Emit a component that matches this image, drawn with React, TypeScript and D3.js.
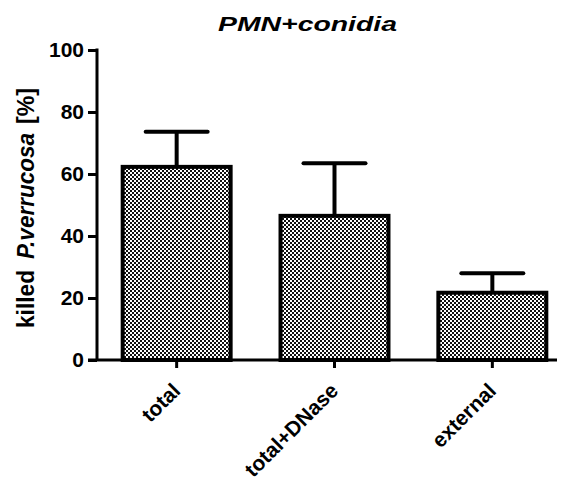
import * as d3 from "d3";
import React from "react";

const categories = ["total", "total+DNase", "external"];
const means = [62.3, 46.5, 21.7];
const errors = [11.3, 17, 6.3];
const yTicks = [0, 20, 40, 60, 80, 100];

export default function App() {
  const ref = React.useRef<SVGSVGElement>(null);

  React.useEffect(() => {
    const svg = d3.select(ref.current);
    svg.selectAll("*").remove();

    const x0 = 97;
    const x1 = 557;
    const yTop = 50;
    const yBottom = 360;

    const x = d3.scaleBand().domain(categories).range([x0 + 2, 570]).paddingInner(0.316).paddingOuter(0.15);
    const y = d3.scaleLinear().domain([0, 100]).range([yBottom, yTop]);

    // checker pattern
    const pat = svg
      .append("defs")
      .append("pattern")
      .attr("id", "checker")
      .attr("width", 4)
      .attr("height", 4)
      .attr("patternUnits", "userSpaceOnUse");
    pat.append("rect").attr("width", 4).attr("height", 4).attr("fill", "#fff");
    pat.append("rect").attr("width", 2).attr("height", 2).attr("fill", "#111");
    pat.append("rect").attr("x", 2).attr("y", 2).attr("width", 2).attr("height", 2).attr("fill", "#111");

    const font = "Arial, 'Liberation Sans', sans-serif";

    // bars
    svg
      .append("g")
      .selectAll("rect")
      .data(categories)
      .join("rect")
      .attr("x", (d) => x(d)!)
      .attr("y", (d, i) => y(means[i]))
      .attr("width", x.bandwidth())
      .attr("height", (d, i) => yBottom - y(means[i]))
      .attr("fill", "url(#checker)")
      .attr("stroke", "#000")
      .attr("stroke-width", 4);

    // error bars
    const eb = svg.append("g").attr("stroke", "#000").attr("stroke-width", 4);
    categories.forEach((c, i) => {
      const cx = x(c)! + x.bandwidth() / 2;
      eb.append("line")
        .attr("x1", cx)
        .attr("x2", cx)
        .attr("y1", y(means[i]))
        .attr("y2", y(means[i] + errors[i]));
      eb.append("line")
        .attr("x1", cx - 31)
        .attr("x2", cx + 31)
        .attr("y1", y(means[i] + errors[i]))
        .attr("y2", y(means[i] + errors[i]))
        .attr("stroke-linecap", "round");
    });

    // y axis
    const yAxis = svg
      .append("g")
      .attr("transform", `translate(${x0},0)`)
      .call(d3.axisLeft(y).tickValues(yTicks).tickSize(9).tickSizeOuter(0).tickPadding(4));
    yAxis.select(".domain").attr("stroke-width", 3).attr("d", `M0,${yTop - 1.5}V${yBottom}`);
    yAxis.selectAll(".tick line").attr("stroke-width", 3);
    yAxis
      .selectAll(".tick text")
      .attr("font-family", font)
      .attr("font-weight", "bold")
      .attr("font-size", 21)
      .attr("fill", "#000");

    // x axis
    const xAxis = svg
      .append("g")
      .attr("transform", `translate(0,${yBottom})`)
      .call(d3.axisBottom(x).tickSize(8).tickSizeOuter(0).tickPadding(4));
    xAxis.select(".domain").attr("stroke-width", 3).attr("d", `M${x0 - 9},0H${x1}`);
    xAxis.selectAll(".tick line").attr("stroke-width", 3);
    xAxis
      .selectAll(".tick text")
      .attr("font-family", font)
      .attr("font-weight", "bold")
      .attr("font-size", 21)
      .attr("fill", "#000")
      .attr("text-anchor", "end")
      .attr("x", 0)
      .attr("y", 0)
      .attr("dy", 0)
      .attr("transform", "translate(5,32) rotate(-45)");

    // title
    svg
      .append("text")
      .attr("x", 218)
      .attr("y", 31)
      .attr("textLength", 179)
      .attr("lengthAdjust", "spacingAndGlyphs")
      .attr("font-family", font)
      .attr("font-weight", "bold")
      .attr("font-style", "italic")
      .attr("font-size", 21)
      .text("PMN+conidia");

    // y label, three pieces placed along the rotated baseline
    const yLabel = [
      { t: "killed", italic: false, from: 328, len: 58 },
      { t: "P.verrucosa", italic: true, from: 259, len: 126 },
      { t: "[%]", italic: false, from: 124, len: 36 },
    ];
    svg
      .append("g")
      .selectAll("text")
      .data(yLabel)
      .join("text")
      .attr("transform", (d) => `translate(34,${d.from}) rotate(-90)`)
      .attr("textLength", (d) => d.len)
      .attr("lengthAdjust", "spacingAndGlyphs")
      .attr("font-family", font)
      .attr("font-weight", "bold")
      .attr("font-style", (d) => (d.italic ? "italic" : "normal"))
      .attr("font-size", 23)
      .text((d) => d.t);
  }, []);

  return (
    <svg
      ref={ref}
      width={576}
      height={484}
      style={{ position: "absolute", left: 0, top: 0, background: "#fff" }}
    />
  );
}
